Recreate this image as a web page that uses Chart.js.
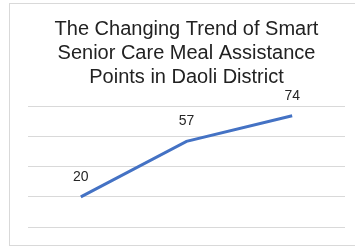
<!DOCTYPE html>
<html>
<head>
<meta charset="UTF-8">
<title>Smart Senior Care Meal Assistance Points</title>
<script src="https://cdn.jsdelivr.net/npm/chart.js@4.4.1/dist/chart.umd.min.js"></script>
<style>
  html, body { margin: 0; padding: 0; background: #fff; }
  .frame { position: absolute; left: 9px; top: 3px; width: 350px; height: 243px; border: 1px solid #d9d9d9; box-sizing: border-box; }
  .chart-container { position: absolute; left: 0; top: 0; width: 355px; height: 249px; }
</style>
</head>
<body>
<div class="frame"></div>
<div class="chart-container"><canvas id="chart"></canvas></div>

<script>
  // data
  const categories = ['1', '2', '3']
  const points = [20, 57, 74]
  const yTicks = [0, 20, 40, 60, 80]
  const titleLines = ['The Changing Trend of Smart', 'Senior Care Meal Assistance', 'Points in Daoli District']

  const font = "'Liberation Sans', Arial, sans-serif"

  // little plugin to write the value above each point
  const valueLabels = {
    id: 'valueLabels',
    afterDatasetsDraw(chart) {
      const ctx = chart.ctx
      const meta = chart.getDatasetMeta(0)
      ctx.save()
      ctx.font = '14px ' + font
      ctx.fillStyle = '#262626'
      ctx.textAlign = 'center'
      ctx.textBaseline = 'middle'
      meta.data.forEach(function (pt, i) {
        ctx.fillText(chart.data.datasets[0].data[i], pt.x, pt.y - 20)
      })
      ctx.restore()
    }
  }

  const ctx = document.querySelector('#chart').getContext('2d')
  const chart = new Chart(ctx, {
    type: 'line',
    data: {
      labels: categories,
      datasets: [{
        label: 'Points',
        data: points,
        borderColor: '#4472C4',
        borderWidth: 3,
        pointRadius: 0,
        tension: 0
      }]
    },
    options: {
      responsive: true,
      maintainAspectRatio: false,
      animation: false,
      layout: { padding: { left: 28, right: 10, top: 0, bottom: 22 } },
      plugins: {
        legend: { display: false },
        tooltip: { enabled: false },
        title: {
          display: true,
          text: titleLines,
          color: '#222',
          font: { family: font, size: 20, weight: 'normal', lineHeight: 1.18 },
          padding: { top: 18, bottom: 18 }
        }
      },
      scales: {
        x: {
          display: false,
          offset: true
        },
        y: {
          min: yTicks[0],
          max: yTicks[yTicks.length - 1],
          afterBuildTicks: function (axis) {
            axis.ticks = yTicks.map(function (v) { return { value: v } })
          },
          ticks: { display: false },
          border: { display: false },
          grid: { color: '#d9d9d9', lineWidth: 1, drawTicks: false }
        }
      }
    },
    plugins: [valueLabels]
  })
</script>
</body>
</html>
